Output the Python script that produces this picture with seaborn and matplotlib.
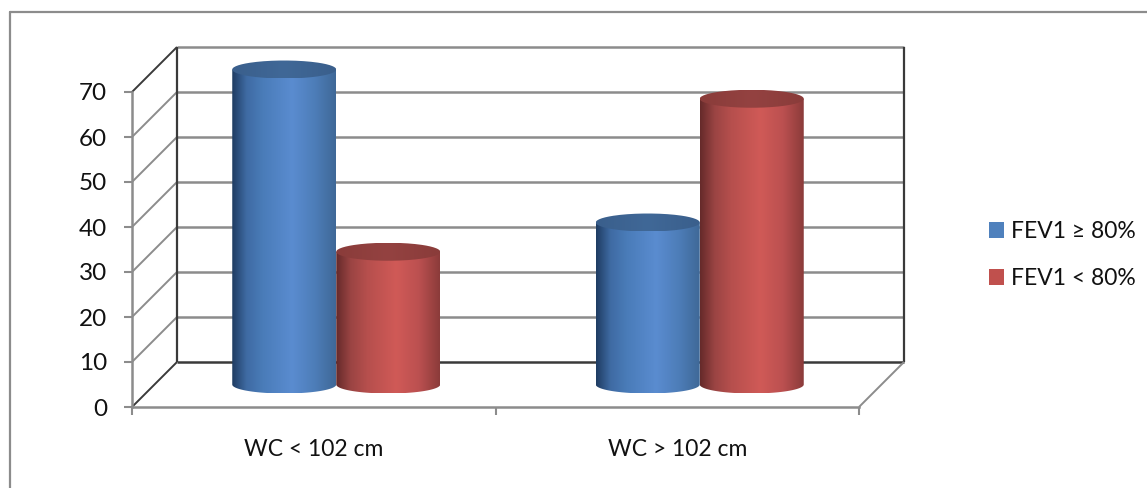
import numpy as np
import pandas as pd
import matplotlib
matplotlib.use("Agg")
import matplotlib.pyplot as plt
from matplotlib.lines import Line2D
from matplotlib.patches import Patch, PathPatch
from matplotlib.path import Path
from matplotlib.colors import LinearSegmentedColormap, to_hex
import seaborn as sns

# Chart data
categories = ["WC < 102 cm", "WC > 102 cm"]
series_names = ["FEV1 ≥ 80%", "FEV1 < 80%"]
fev_high = [70, 36]
fev_low = [29.5, 63.5]
y_ticks = [0, 10, 20, 30, 40, 50, 60, 70]

# Colours
GRID = "#8c8c8c"
DARK = "#3a3a3a"
TEXT = "#111111"
BASE = ["#4f81bd", "#c0504d"]
BODY = [
    ["#1f3c62", "#3f6ba3", "#4a7cb9", "#5a8cd0", "#4d7db8", "#3f6897"],
    ["#652a2a", "#9a4443", "#b64f4d", "#d05a57", "#bb5050", "#8b3b3a"],
]
CAP = [["#3a5f8c", "#406897", "#3a5f8c"], ["#8a3c3a", "#944241", "#8a3c3a"]]
STOPS = [0, 0.14, 0.3, 0.58, 0.8, 1]

sns.set_theme(style="white")
plt.rcParams["font.family"] = ["Lato", "DejaVu Sans"]

W, H = 1147, 488
fig = plt.figure(figsize=(W / 100, H / 100), dpi=100)

# Plot box in pixels: front floor edge plus the depth of the 3-D box
LEFT, RIGHT, TOP, BOTTOM = 132, 904, 47, 407
ax = fig.add_axes([LEFT / W, 1 - BOTTOM / H, (RIGHT - LEFT) / W, (BOTTOM - TOP) / H])

px_x = 727 / 2          # pixels per category
px_y = 315 / 70         # pixels per value unit
depth_x = 45 / px_x
depth_y = 45 / px_y
x0, x1 = -0.5, 1.5
top_val = 70

data = pd.DataFrame({
    "category": categories * 2,
    "series": [series_names[0]] * 2 + [series_names[1]] * 2,
    "value": fev_high + fev_low,
})

# Box walls
wall = dict(zorder=1, clip_on=False, solid_capstyle="butt")
for v in y_ticks:
    side = DARK if v in (0, top_val) else GRID
    ax.plot([x0, x0 + depth_x], [v, v + depth_y], color=side, lw=1.4, **wall)
for v in y_ticks[1:]:
    ax.plot([x0 + depth_x, x1 + depth_x], [v + depth_y] * 2, color=GRID, lw=1.8, **wall)
ax.plot([x0 + depth_x, x1 + depth_x], [depth_y] * 2, color=DARK, lw=1.8, **wall)
ax.plot([x0 + depth_x] * 2, [depth_y, top_val + depth_y], color=DARK, lw=1.6, **wall)
ax.plot([x1 + depth_x] * 2, [depth_y, top_val + depth_y], color=DARK, lw=1.6, **wall)
ax.plot([x1, x1 + depth_x], [0, depth_y], color=GRID, lw=1.4, **wall)

# Bars come from seaborn; each one is then moved to mid-depth and shaded as a cylinder
sns.barplot(data=data, x="category", y="value", hue="series", order=categories,
            hue_order=series_names, palette=BASE, width=2 * 104 / px_x,
            gap=0, saturation=1, legend=False, ax=ax, zorder=2)

CAP_H = 18 / px_y
theta = np.linspace(0, np.pi, 80)
for bar in ax.patches:
    bx, bw, value = bar.get_x() + depth_x / 2, bar.get_width(), bar.get_height()
    base = depth_y / 2
    bar.set_x(bx)
    bar.set_y(base)
    bar.set_visible(False)
    series_idx = BASE.index(to_hex(bar.get_facecolor()))
    cx = bx + bw / 2
    rx, ry = bw / 2, CAP_H / 2
    top = base + value

    # Body outline: across the cap centre, then round the lower rim
    lower = np.column_stack([cx - rx * np.cos(theta), base - ry * np.sin(theta)])
    outline = np.vstack([[[bx, top], [bx + bw, top]], lower[::-1], [[bx, top]]])
    body_cmap = LinearSegmentedColormap.from_list("body", list(zip(STOPS, BODY[series_idx])))
    body = ax.imshow(np.linspace(0, 1, 256)[None, :], cmap=body_cmap, aspect="auto",
                     extent=[bx, bx + bw, base - ry, top], zorder=3, interpolation="bilinear")
    body.set_clip_path(PathPatch(Path(outline), transform=ax.transData))

    # Cap ellipse
    t = np.linspace(0, 2 * np.pi, 160)
    cap_path = Path(np.column_stack([cx + rx * np.cos(t), top + ry * np.sin(t)]))
    cap_cmap = LinearSegmentedColormap.from_list("cap", CAP[series_idx])
    cap = ax.imshow(np.linspace(0, 1, 64)[None, :], cmap=cap_cmap, aspect="auto",
                    extent=[bx, bx + bw, top - ry, top + ry], zorder=3, interpolation="bilinear")
    cap.set_clip_path(PathPatch(cap_path, transform=ax.transData))

ax.set_xlim(x0, x0 + (RIGHT - LEFT) / px_x)
ax.set_ylim(0, (BOTTOM - TOP) / px_y)

# Axes, ticks and labels
for name in ("top", "right"):
    ax.spines[name].set_visible(False)
for name in ("left", "bottom"):
    ax.spines[name].set_color(GRID)
    ax.spines[name].set_linewidth(1.8)
ax.spines["left"].set_bounds(0, top_val)
ax.spines["bottom"].set_bounds(x0, x1)
ax.set_xlabel("")
ax.set_ylabel("")
ax.set_yticks(y_ticks)
ax.tick_params(axis="y", left=True, length=6, width=1.5, color=GRID, pad=12,
               labelsize=17.5, labelcolor=TEXT)
ax.set_xticks([x0, 0.5, x1])
ax.set_xticklabels([])
ax.set_xticks([0, 1], labels=categories, minor=True)
ax.tick_params(axis="x", which="major", bottom=True, length=6, width=1.5, color=GRID)
ax.tick_params(axis="x", which="minor", bottom=False, length=0, pad=23,
               labelsize=16.5, labelcolor=TEXT)

# Legend
handles = [Patch(facecolor=c, edgecolor="none", label=n) for c, n in zip(BASE, series_names)]
fig.legend(handles=handles, loc="center left", bbox_to_anchor=(989 / W, 1 - 255 / H),
           frameon=False, fontsize=16.5, handlelength=0.66, handleheight=0.66,
           handletextpad=0.3, labelspacing=1.12, labelcolor=TEXT, borderpad=0, borderaxespad=0)

# Outer chart frame
for xs, ys in (([9.5, 9.5], [12, 488]), ([9.5, 1147], [12, 12])):
    fig.add_artist(Line2D(np.array(xs) / W, 1 - np.array(ys) / H, color=GRID, lw=1.6))

fig.savefig("out.png", dpi=100)
